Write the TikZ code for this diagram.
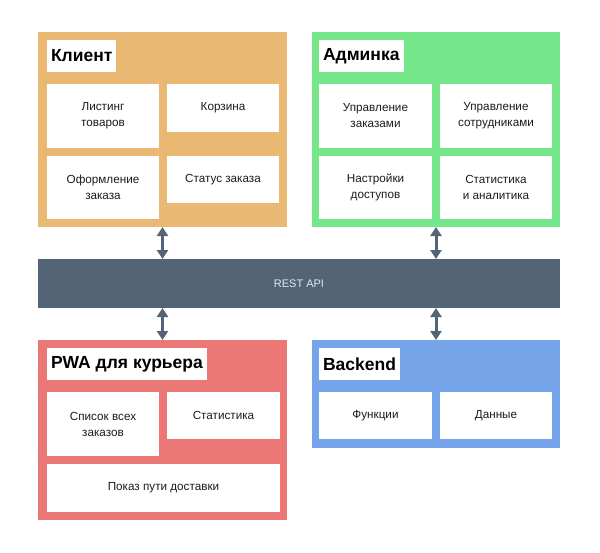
\documentclass[tikz,border=0pt]{standalone}
\usepackage{fontspec}
\setmainfont{Liberation Sans}
\usetikzlibrary{arrows.meta, positioning}
\definecolor{clientorange}{RGB}{233,185,115}
\definecolor{admingreen}{RGB}{118,230,138}
\definecolor{courierred}{RGB}{235,119,119}
\definecolor{backendblue}{RGB}{118,164,232}
\definecolor{apislate}{RGB}{82,100,117}
\definecolor{apitext}{RGB}{226,231,236}
\definecolor{textdark}{RGB}{28,28,28}

\begin{document}
\begin{tikzpicture}[
    x=1pt, y=-1pt,
    block/.style={rectangle, anchor=north west, outer sep=0pt, inner sep=0pt},
    heading/.style={rectangle, anchor=north west, fill=white, outer sep=0pt, inner xsep=4pt, inner ysep=0pt, minimum height=32pt, font=\fontsize{17.5}{20}\selectfont\bfseries, text=black},
    feature/.style={rectangle, anchor=north west, fill=white, outer sep=0pt, inner sep=0pt, align=center, font=\fontsize{11.7}{16}\selectfont, text=textdark},
    arrow/.style={{Triangle[width=11pt,length=9pt]}-{Triangle[width=11pt,length=9pt]}, line width=3pt, apislate}
]
    \useasboundingbox (0,0) rectangle (600,552);

    % groups
    \node[block, fill=clientorange, minimum width=249pt, minimum height=195pt] (client) at (38,32) {};
    \node[block, fill=admingreen, minimum width=248pt, minimum height=195pt] (admin) at (312,32) {};
    \node[block, fill=apislate, minimum width=522pt, minimum height=49pt] (api) at (38,259) {};
    \node[block, fill=courierred, minimum width=249pt, minimum height=180pt] (courier) at (38,340) {};
    \node[block, fill=backendblue, minimum width=248pt, minimum height=108pt] (backend) at (312,340) {};
    \node[text=apitext, font=\fontsize{11}{14}\selectfont] (apilabel) at (api.center) {REST API};

    % client
    \node[heading] (clienttitle) at (47,40) {Клиент};
    \node[feature, minimum width=112pt, minimum height=64pt] (listing) at (47,84) {Листинг\\товаров};
    \node[feature, minimum width=112pt, minimum height=48pt] (cart) at (167,84) {Корзина};
    \node[feature, minimum width=112pt, minimum height=63pt] (checkout) at (47,156) {Оформление\\заказа};
    \node[feature, minimum width=112pt, minimum height=47pt] (status) at (167,156) {Статус заказа};

    % admin
    \node[heading] (admintitle) at (319,40) {Админка};
    \node[feature, minimum width=113pt, minimum height=64pt] (orders) at (319,84) {Управление\\заказами};
    \node[feature, minimum width=112pt, minimum height=64pt] (staff) at (440,84) {Управление\\сотрудниками};
    \node[feature, minimum width=113pt, minimum height=63pt] (access) at (319,156) {Настройки\\доступов};
    \node[feature, minimum width=112pt, minimum height=63pt] (analytics) at (440,156) {Статистика\\и аналитика};

    % courier pwa
    \node[heading] (couriertitle) at (47,348) {PWA для курьера};
    \node[feature, minimum width=112pt, minimum height=64pt] (orderlist) at (47,392) {Список всех\\заказов};
    \node[feature, minimum width=113pt, minimum height=47pt] (courierstats) at (167,392) {Статистика};
    \node[feature, minimum width=233pt, minimum height=48pt] (route) at (47,464) {Показ пути доставки};

    % backend
    \node[heading] (backendtitle) at (319,348) {Backend};
    \node[feature, minimum width=113pt, minimum height=47pt] (functions) at (319,392) {Функции};
    \node[feature, minimum width=112pt, minimum height=47pt] (data) at (440,392) {Данные};

    \draw[arrow] (client.south) -- (client.south |- api.north);
    \draw[arrow] (admin.south) -- (admin.south |- api.north);
    \draw[arrow] (courier.north) -- (courier.north |- api.south);
    \draw[arrow] (backend.north) -- (backend.north |- api.south);
\end{tikzpicture}
\end{document}
